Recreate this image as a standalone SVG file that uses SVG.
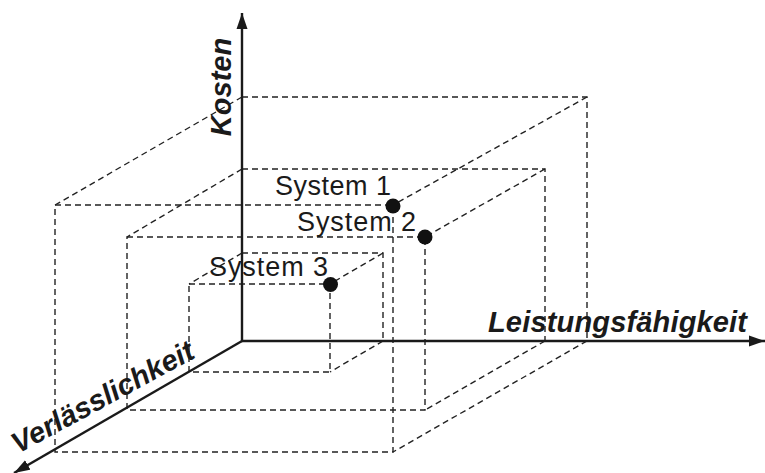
<svg xmlns="http://www.w3.org/2000/svg" width="765" height="473" viewBox="0 0 765 473">
  <style>
    .edge { fill: none; stroke: #222; stroke-width: 1.4; stroke-dasharray: 6 4; }
    .axis { fill: none; stroke: #1a1a1a; stroke-width: 2.4; }
    .axislabel { font-family: "Liberation Sans", Arial, sans-serif; font-size: 29px; font-weight: bold; font-style: italic; fill: #1a1a1a; }
    .label { font-family: "Liberation Sans", Arial, sans-serif; font-size: 27px; fill: #1a1a1a; }
    .dot { fill: #111; }
  </style>
  <defs>
    <marker id="arrow" markerUnits="userSpaceOnUse" markerWidth="17" markerHeight="12" refX="16" refY="6" orient="auto">
      <path d="M0,0.5 L16,6 L0,11.5 Z" fill="#1a1a1a"/>
    </marker>
  </defs>
  <rect width="765" height="473" fill="#fff"/>

  <!-- box edges, drawn dashed -->
  <g id="connectors">
    <!-- system 1 box -->
    <g id="box1">
      <path class="edge" d="M242,97 H587 V341"/>
      <path class="edge" d="M55,205 H393 V452 H55 Z"/>
      <path class="edge" d="M242,97 L55,205 M587,97 L393,205 M587,341 L393,452"/>
    </g>
    <!-- system 2 box -->
    <g id="box2">
      <path class="edge" d="M242,169 H545 V341"/>
      <path class="edge" d="M127,237 H425 V410 H127 Z"/>
      <path class="edge" d="M242,169 L127,237 M545,169 L425,237 M545,341 L425,410"/>
    </g>
    <!-- system 3 box -->
    <g id="box3">
      <path class="edge" d="M242,253 H383 V341"/>
      <path class="edge" d="M189,284 H330 V372 H189 Z"/>
      <path class="edge" d="M242,253 L189,284 M383,253 L330,284 M383,341 L330,372"/>
    </g>
  </g>

  <!-- axes -->
  <g id="axes">
    <line class="axis" x1="242" y1="342" x2="242" y2="13" marker-end="url(#arrow)"/>
    <line class="axis" x1="241" y1="341" x2="765" y2="341" marker-end="url(#arrow)"/>
    <line class="axis" x1="242" y1="341" x2="14" y2="473" marker-end="url(#arrow)"/>
  </g>

  <g id="axis-labels">
    <text class="axislabel" transform="translate(231,87) rotate(-90)" text-anchor="middle">Kosten</text>
    <text class="axislabel" x="488" y="332" textLength="259">Leistungsfähigkeit</text>
    <text class="axislabel" transform="translate(18,454) rotate(-28.5)" textLength="203">Verlässlichkeit</text>
  </g>

  <g id="system1">
    <text class="label" x="275" y="195" textLength="116">System 1</text>
    <circle class="dot" cx="393" cy="206" r="7.5"/>
  </g>
  <g id="system2">
    <text class="label" x="297" y="231" textLength="119">System 2</text>
    <circle class="dot" cx="425" cy="237" r="7.5"/>
  </g>
  <g id="system3">
    <text class="label" x="209" y="276" textLength="119">System 3</text>
    <circle class="dot" cx="330.5" cy="284.5" r="7.5"/>
  </g>
</svg>
